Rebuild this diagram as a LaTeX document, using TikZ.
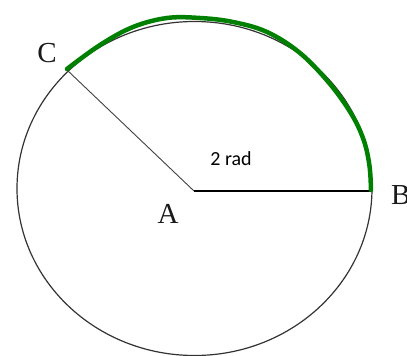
\documentclass[tikz,border=0pt]{standalone}
\usepackage{fontspec}
\setmainfont{Liberation Serif}
\newfontfamily\calib{Carlito}
\begin{document}
\begin{tikzpicture}[x=1pt,y=-1pt,
  ptlabel/.style={font=\fontsize{29}{31}\selectfont, inner sep=0pt, text=black!90},
  anglabel/.style={font=\calib\fontsize{20}{22}\selectfont, inner sep=0pt},
  rim/.style={draw=black!80, line width=1.2pt},
  radius line/.style={line width=1.1pt},
  arcmark/.style={draw={rgb,255:red,0;green,128;blue,0}, line width=4.5pt, line cap=round, line join=round}]
\useasboundingbox (0,0) rectangle (407,356);
\coordinate (O) at (194.5,188.5);
\coordinate (A) at (194,191);
\coordinate (B) at (371.5,191);
\coordinate (C) at (67,70);
\draw[rim] (O) ellipse [x radius=177.5, y radius=167];
\draw[radius line, black!75, line width=0.9pt] (A) -- (C);
\draw[radius line] (A) -- (B);
\draw[arcmark] plot[smooth, tension=0.6] coordinates {(67,69) (100,45) (133,27) (167,18) (200,18) (233,22) (267,32) (300,53) (330,84) (352,115) (364,141) (369.5,166) (371,190)};
\node[ptlabel] (lc) at (47,53) {C};
\node[ptlabel] (la) at (168,214) {A};
\node[ptlabel, anchor=west] (lb) at (391,195) {B};
\node[anglabel] (lr) at (231,159) {2 rad};
\end{tikzpicture}
\end{document}
